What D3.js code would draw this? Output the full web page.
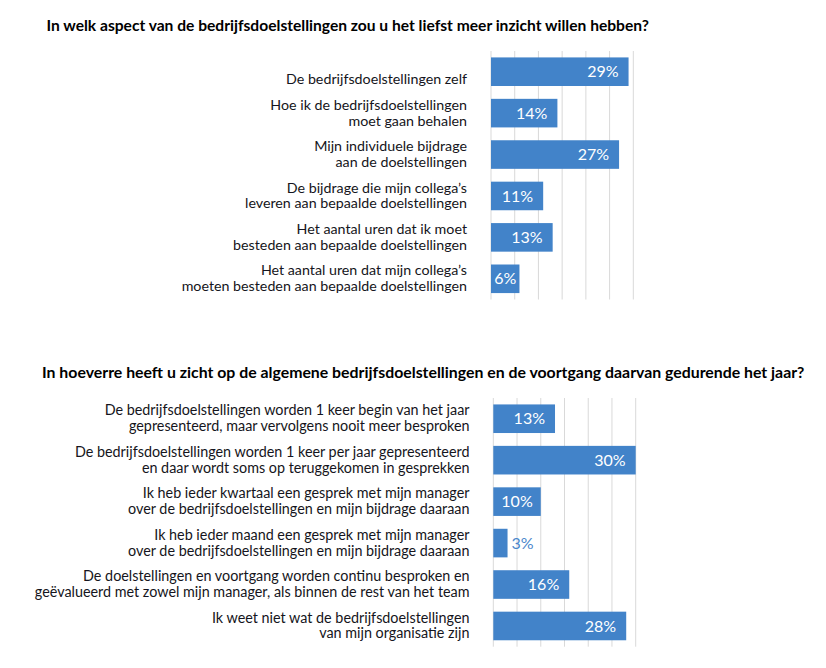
<!DOCTYPE html>
<html>
<head>
<meta charset="utf-8">
<script src="https://cdn.jsdelivr.net/npm/d3@7"></script>
<style>
  html, body { margin: 0; padding: 0; background: #fff; }
  svg { display: block; }
  text { font-family: Lato, "Open Sans", sans-serif; }
</style>
</head>
<body>
<svg id="chart" width="826" height="668"></svg>
<script>
// ---- Data ----
const title1 = "In welk aspect van de bedrijfsdoelstellingen zou u het liefst meer inzicht willen hebben?";
const categories1 = [
  ["", "De bedrijfsdoelstellingen zelf"],
  ["Hoe ik de bedrijfsdoelstellingen", "moet gaan behalen"],
  ["Mijn individuele bijdrage", "aan de doelstellingen"],
  ["De bijdrage die mijn collega’s", "leveren aan bepaalde doelstellingen"],
  ["Het aantal uren dat ik moet", "besteden aan bepaalde doelstellingen"],
  ["Het aantal uren dat mijn collega’s", "moeten besteden aan bepaalde doelstellingen"]
];
const values1 = [29, 14, 27, 11, 13, 6];

const title2 = "In hoeverre heeft u zicht op de algemene bedrijfsdoelstellingen en de voortgang daarvan gedurende het jaar?";
const categories2 = [
  ["De bedrijfsdoelstellingen worden 1 keer begin van het jaar", "gepresenteerd, maar vervolgens nooit meer besproken"],
  ["De bedrijfsdoelstellingen worden 1 keer per jaar gepresenteerd", "en daar wordt soms op teruggekomen in gesprekken"],
  ["Ik heb ieder kwartaal een gesprek met mijn manager", "over de bedrijfsdoelstellingen en mijn bijdrage daaraan"],
  ["Ik heb ieder maand een gesprek met mijn manager", "over de bedrijfsdoelstellingen en mijn bijdrage daaraan"],
  ["De doelstellingen en voortgang worden continu besproken en", "geëvalueerd met zowel mijn manager, als binnen de rest van het team"],
  ["Ik weet niet wat de bedrijfsdoelstellingen", "van mijn organisatie zijn"]
];
const values2 = [13, 30, 10, 3, 16, 28];

const xDomain = [0, 30];
const xTicks = [0, 5, 10, 15, 20, 25, 30];

// ---- Style ----
const BAR = "#4283c9";
const GRID = "#d9d9d9";
const TEXT = "#151520";

const svg = d3.select("#chart");

function drawPanel(cfg) {
  const g = svg.append("g");

  g.append("text")
    .attr("x", cfg.titleX).attr("y", cfg.titleY)
    .attr("font-weight", "bold")
    .attr("font-size", cfg.titleSize)
    .attr("fill", "#000")
    .text(cfg.title);

  const x = d3.scaleLinear().domain(xDomain).range(cfg.xRange);
  const y = d3.scaleBand()
    .domain(d3.range(cfg.values.length))
    .range(cfg.yRange)
    .paddingInner(0.31)
    .paddingOuter(0.155);

  g.append("g").selectAll("line").data(xTicks).join("line")
    .attr("x1", d => x(d)).attr("x2", d => x(d))
    .attr("y1", cfg.yRange[0]).attr("y2", cfg.yRange[1])
    .attr("stroke", GRID).attr("stroke-width", 1);

  g.append("g").selectAll("rect").data(cfg.values).join("rect")
    .attr("x", x(0))
    .attr("y", (d, i) => y(i))
    .attr("width", d => x(d) - x(0))
    .attr("height", y.bandwidth())
    .attr("fill", BAR);

  // category labels
  const lh = 15.8;
  const lab = g.append("g").selectAll("text").data(cfg.categories).join("text")
    .attr("text-anchor", "end")
    .attr("font-size", cfg.labelSize)
    .attr("fill", TEXT);
  lab.each(function(lines, i) {
    const t = d3.select(this);
    const cy = y(i) + y.bandwidth() / 2;
    lines.forEach((ln, k) => {
      t.append("tspan")
        .attr("x", cfg.labelX)
        .attr("y", cy + (k - (lines.length - 1) / 2) * lh + 4.6)
        .text(ln);
    });
  });

  // value labels
  g.append("g").selectAll("text").data(cfg.values).join("text")
    .attr("font-size", 16)
    .attr("y", (d, i) => y(i) + y.bandwidth() / 2 + 5.6)
    .text(d => d + "%")
    .each(function(d) {
      const t = d3.select(this);
      const w = this.getComputedTextLength();
      const bw = x(d) - x(0);
      if (w + 6 <= bw) {
        const pad = Math.min(10, (bw - w) / 2);
        t.attr("x", x(d) - pad).attr("text-anchor", "end").attr("fill", "#fff");
      } else {
        t.attr("x", x(d) + 4).attr("text-anchor", "start").attr("fill", "#4a87cc");
      }
    });
}

drawPanel({
  title: title1, titleX: 46.5, titleY: 31, titleSize: 15.6,
  categories: categories1, values: values1, labelSize: 14.25,
  xRange: [491, 633.3], yRange: [51, 299.5], labelX: 467
});

drawPanel({
  title: title2, titleX: 42, titleY: 378, titleSize: 15.85,
  categories: categories2, values: values2, labelSize: 14.35,
  xRange: [493.3, 635.7], yRange: [398, 646.7], labelX: 469.5
});
</script>
</body>
</html>
